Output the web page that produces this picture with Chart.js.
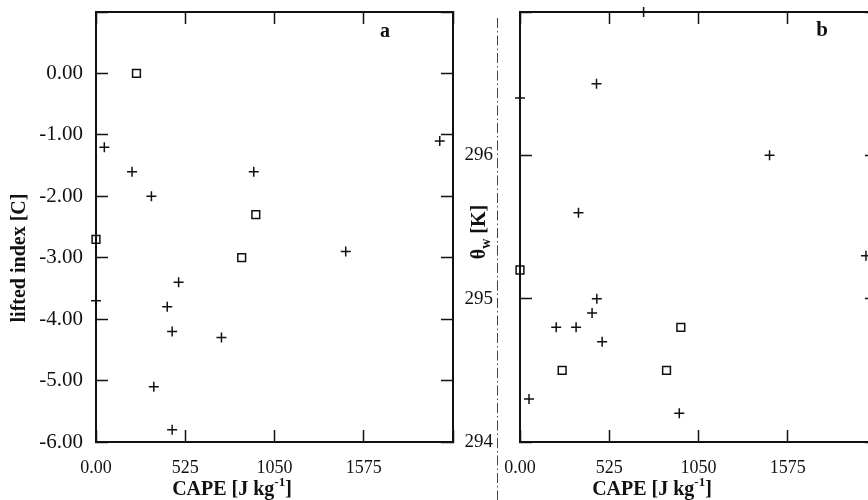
<!DOCTYPE html>
<html>
<head>
<meta charset="utf-8">
<script src="https://cdn.jsdelivr.net/npm/chart.js@4"></script>
<style>
  html, body { margin: 0; padding: 0; background: #fff; width: 868px; height: 500px; overflow: hidden; }
  body { position: relative; }
  canvas { position: absolute; top: 0; }
  #chartA { left: 0; }
  #chartB { left: 440px; }
</style>
</head>
<body>
<canvas id="chartA" width="470" height="500"></canvas>
<canvas id="chartB" width="460" height="500"></canvas>
<script>
// panel a: CAPE vs lifted index
const capeSquaresA = [0, 238, 857, 940];
const liftedSquares = [-2.7, 0.0, -3.0, -2.3];
const capePlusA = [49, 212, 326, 928, 1469, 2022, 0, 486, 419, 448, 738, 340, 448];
const liftedPlus = [-1.2, -1.6, -2.0, -1.6, -2.9, -1.1, -3.7, -3.4, -3.8, -4.2, -4.3, -5.1, -5.8];

// panel b: CAPE vs theta_w
const capeSquaresB = [0, 946, 248, 862];
const thetaSquares = [295.2, 294.8, 294.5, 294.5];
const capePlusB = [450, 0, 1468, 344, 452, 424, 213, 330, 483, 53, 937, 2035, 727];
const thetaPlus = [296.5, 296.4, 296.0, 295.6, 295.0, 294.9, 294.8, 294.8, 294.7, 294.3, 294.2, 295.3, 297.0];

const capeTicks = [0, 525, 1050, 1575, 2100];
const liftedTicks = [-6, -5, -4, -3, -2, -1, 0, 1];
const thetaTicks = [294, 295, 296, 297];

const serif = '"Liberation Serif", "Times New Roman", serif';
const ink = '#111';

function toPoints(xs, ys) {
  return xs.map((x, i) => ({ x: x, y: ys[i] }));
}

function capeLabel(v) {
  if (v === 0) return '0.00';
  if (v === capeTicks[capeTicks.length - 1]) return '';
  return String(v);
}

// draws text made of several pieces (for sub/superscripts), centred on x,y
function drawParts(ctx, parts, x, y, rot) {
  ctx.save();
  ctx.translate(x, y);
  ctx.rotate(rot || 0);
  ctx.fillStyle = ink;
  ctx.textBaseline = 'middle';
  ctx.textAlign = 'left';
  let total = 0;
  parts.forEach(p => { ctx.font = p.font; total += ctx.measureText(p.t).width; });
  let cx = -total / 2;
  parts.forEach(p => {
    ctx.font = p.font;
    ctx.fillText(p.t, cx, p.dy || 0);
    cx += ctx.measureText(p.t).width;
  });
  ctx.restore();
}

// fixed size for a scale box, and no extra room for overhanging labels
function fixSize(w, h) {
  return s => {
    if (w !== null) s.width = w;
    if (h !== null) s.height = h;
    s.paddingTop = s.paddingBottom = s.paddingLeft = s.paddingRight = 0;
  };
}

function edgeAxes(xTicks, yTicks, yMin, yMax, xPad, yPad, yWidth, yFont, yLabel) {
  const common = {
    border: { display: true, color: ink, width: 2 },
    grid: { drawOnChartArea: false, drawTicks: true, tickLength: -12, tickColor: ink, tickWidth: 1.5 }
  };
  return {
    x: Object.assign({}, common, {
      type: 'linear', position: 'bottom', min: 0, max: 2100,
      afterBuildTicks: s => { s.ticks = xTicks.map(v => ({ value: v })); },
      afterFit: fixSize(null, 58),
      ticks: { padding: xPad, color: ink, font: { family: serif, size: 18 }, callback: capeLabel, maxRotation: 0, autoSkip: false }
    }),
    x2: Object.assign({}, common, {
      type: 'linear', position: 'top', min: 0, max: 2100,
      afterBuildTicks: s => { s.ticks = xTicks.map(v => ({ value: v })); },
      afterFit: fixSize(null, 0),
      ticks: { display: false }
    }),
    y: Object.assign({}, common, {
      type: 'linear', position: 'left', min: yMin, max: yMax,
      afterBuildTicks: s => { s.ticks = yTicks.map(v => ({ value: v })); },
      afterFit: fixSize(yWidth, null),
      ticks: { padding: yPad, color: ink, font: { family: serif, size: yFont }, callback: yLabel, autoSkip: false }
    }),
    y2: Object.assign({}, common, {
      type: 'linear', position: 'right', min: yMin, max: yMax,
      afterBuildTicks: s => { s.ticks = yTicks.map(v => ({ value: v })); },
      afterFit: fixSize(0, null),
      ticks: { display: false }
    })
  };
}

function datasets(sqX, sqY, plX, plY) {
  return [
    {
      data: toPoints(sqX, sqY), pointStyle: 'rect', pointRadius: 5.5, pointHoverRadius: 5.5,
      borderColor: ink, backgroundColor: 'rgba(255,255,255,0)', borderWidth: 1.5, clip: false
    },
    {
      data: toPoints(plX, plY), pointStyle: 'cross', pointRadius: 5, pointHoverRadius: 5,
      borderColor: ink, backgroundColor: ink, borderWidth: 1.5, clip: false
    }
  ];
}

const labelsA = {
  id: 'labelsA',
  afterDraw(chart) {
    const ctx = chart.ctx;
    const a = chart.chartArea;
    drawParts(ctx, [{ t: 'lifted index [C]', font: 'bold 20px ' + serif }], 20, 258, -Math.PI / 2);
    drawParts(ctx, [
      { t: 'CAPE [J kg', font: 'bold 20px ' + serif },
      { t: '-1', font: 'bold 13px ' + serif, dy: -7 },
      { t: ']', font: 'bold 20px ' + serif }
    ], a.left + 136, 490);
    drawParts(ctx, [{ t: 'a', font: 'bold 20px ' + serif }], 385, 32);
  }
};

const labelsB = {
  id: 'labelsB',
  beforeDraw(chart) {
    const ctx = chart.ctx;
    ctx.save();
    ctx.strokeStyle = '#444';
    ctx.lineWidth = 1;
    ctx.setLineDash([10, 3, 1.5, 3]);
    ctx.beginPath();
    ctx.moveTo(57.5, 18);
    ctx.lineTo(57.5, 500);
    ctx.stroke();
    ctx.restore();
  },
  afterDraw(chart) {
    const ctx = chart.ctx;
    const a = chart.chartArea;
    drawParts(ctx, [
      { t: 'θ', font: 'bold 20px ' + serif },
      { t: 'w', font: 'bold 14px ' + serif, dy: 6 },
      { t: ' [K]', font: 'bold 20px ' + serif }
    ], 40, 232, -Math.PI / 2);
    drawParts(ctx, [
      { t: 'CAPE [J kg', font: 'bold 20px ' + serif },
      { t: '-1', font: 'bold 13px ' + serif, dy: -7 },
      { t: ']', font: 'bold 20px ' + serif }
    ], a.left + 132, 490);
    drawParts(ctx, [{ t: 'b', font: 'bold 21px ' + serif }], 382, 31);
  }
};

const baseOptions = (scales, pad) => ({
  responsive: false,
  animation: false,
  devicePixelRatio: 1,
  layout: { padding: pad, autoPadding: false },
  plugins: { legend: { display: false }, tooltip: { enabled: false } },
  scales: scales
});

// panel a
new Chart(document.getElementById('chartA'), {
  type: 'scatter',
  data: { datasets: datasets(capeSquaresA, liftedSquares, capePlusA, liftedPlus) },
  options: baseOptions(
    edgeAxes(capeTicks, liftedTicks, -6, 1, 27, 25, 96, 21, v => (v === 1 ? '' : v.toFixed(2))),
    { top: 12, left: 0, right: 17, bottom: 0 }),
  plugins: [labelsA]
});

// panel b (its right edge runs off the page, as in the original)
new Chart(document.getElementById('chartB'), {
  type: 'scatter',
  data: { datasets: datasets(capeSquaresB, thetaSquares, capePlusB, thetaPlus) },
  options: baseOptions(
    edgeAxes(capeTicks, thetaTicks, 294, 297, 27, 39, 80, 19, v => (v === 297 ? '' : String(v))),
    { top: 12, left: 0, right: 23, bottom: 0 }),
  plugins: [labelsB]
});
</script>
</body>
</html>
